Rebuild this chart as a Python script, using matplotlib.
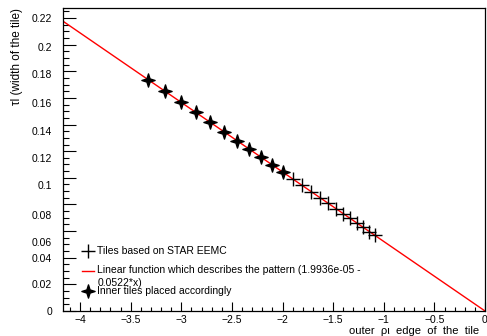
import matplotlib
matplotlib.use("Agg")
import matplotlib.pyplot as plt
from matplotlib.lines import Line2D
from matplotlib.path import Path

plt.rcParams['font.family'] = ['Liberation Sans', 'DejaVu Sans']

# STAR EEMC tiles (outer edge, width)
eemc_x = [-1.9008, -1.8065, -1.7168, -1.6317, -1.5507, -1.4738,
          -1.4007, -1.3312, -1.2651, -1.2023, -1.1427, -1.0860]
eemc_y = [0.0992, 0.0943, 0.0897, 0.0851, 0.0810, 0.0769,
          0.0731, 0.0695, 0.0661, 0.0628, 0.0596, 0.0567]

# inner tiles placed accordingly
inner_x = [-2.0000, -2.1044, -2.2143, -2.3299, -2.4515, -2.5795,
           -2.7141, -2.8558, -3.0049, -3.1618, -3.3268]
inner_y = [0.1044, 0.1099, 0.1156, 0.1216, 0.1280, 0.1346,
           0.1417, 0.1491, 0.1569, 0.1650, 0.1737]

# linear fit parameters
p0, p1 = 1.9936e-05, -0.0522
x_range = [-4.168, 0.0]

# y tick labels (ROOT drew them slightly off the tick marks)
ylabel_text = ['0', '0.02', '0.04', '0.06', '0.08', '0.1', '0.12',
               '0.14', '0.16', '0.18', '0.2', '0.22']
ylabel_pos = [0.0, 0.0203, 0.0398, 0.0518, 0.0721, 0.0946, 0.1149,
              0.1351, 0.1562, 0.1779, 0.1982, 0.2200]

# thin four-pointed star like ROOT's marker
r_in = 0.24
star = Path([(0, 1), (r_in, r_in), (1, 0), (r_in, -r_in), (0, -1),
             (-r_in, -r_in), (-1, 0), (-r_in, r_in), (0, 1)],
            [Path.MOVETO] + [Path.LINETO] * 7 + [Path.CLOSEPOLY])

fig = plt.figure(figsize=(4.87, 3.36), dpi=100)
ax = fig.add_axes([63 / 487, 1 - 311 / 336, 422 / 487, 303 / 336])

fit_y = [p0 + p1 * x for x in x_range]
ax.plot(x_range, fit_y, color='red', lw=1.0, zorder=2)
ax.plot(eemc_x, eemc_y, ls='none', marker='+', ms=9.5, mew=1.0,
        color='black', zorder=3)
ax.plot(inner_x, inner_y, ls='none', marker=star, ms=9.5,
        color='black', zorder=4)

ax.set_xlim(x_range[0], 0.0)
ax.set_ylim(0.0, 0.2275)

ax.set_xticks([-4, -3.5, -3, -2.5, -2, -1.5, -1, -0.5, 0])
ax.set_xticklabels(['\u22124', '\u22123.5', '\u22123', '\u22122.5', '\u22122',
                    '\u22121.5', '\u22121', '\u22120.5', '0'])
ax.set_xticks([v / 10 for v in range(-41, 1)], minor=True)
ax.set_yticks([v / 100 for v in range(0, 23, 2)])
ax.set_yticklabels([])
ax.set_yticks([v / 200 for v in range(0, 46)], minor=True)

ax.tick_params(axis='x', which='major', direction='in', length=6.5,
               width=0.8, labelsize=7.5, pad=3, top=False)
ax.tick_params(axis='x', which='minor', direction='in', length=3.2,
               width=0.8, top=False)
ax.tick_params(axis='y', which='major', direction='in', length=9,
               width=0.8, right=False)
ax.tick_params(axis='y', which='minor', direction='in', length=4.3,
               width=0.8, right=False)

sec = ax.secondary_yaxis('left')
sec.set_yticks(ylabel_pos)
sec.set_yticklabels(ylabel_text)
sec.tick_params(length=0, labelsize=7.5, pad=8)
sec.spines['left'].set_visible(False)

for s in ax.spines.values():
    s.set_linewidth(0.9)

# legend drawn by hand so the wrapped label overlaps like the original
lx_mark, lx_text = 0.059, 0.081
ax.add_line(Line2D([lx_mark], [0.198], marker='+', ms=9.5, mew=1.0,
                   color='black', transform=ax.transAxes))
ax.text(lx_text, 0.198, 'Tiles based on STAR EEMC', transform=ax.transAxes,
        fontsize=7.5, va='center')
ax.add_line(Line2D([0.045, 0.074], [0.132, 0.132], color='red', lw=1.0,
                   transform=ax.transAxes))
ax.text(lx_text, 0.135, 'Linear function which describes the pattern '
        '(1.9936e-05 - ', transform=ax.transAxes, fontsize=7.5, va='center')
ax.text(lx_text, 0.092, '0.0522*x)', transform=ax.transAxes,
        fontsize=7.5, va='center')
ax.add_line(Line2D([lx_mark], [0.066], marker=star, ms=9.5,
                   color='black', transform=ax.transAxes))
ax.text(lx_text, 0.066, 'Inner tiles placed accordingly',
        transform=ax.transAxes, fontsize=7.5, va='center')

fig.text(479 / 487, 1 - 331 / 336, 'outer  \u03c1\u03b9  edge  of  the  tile',
         ha='right', va='center', fontsize=8)
fig.text(17 / 487, 1 - 8 / 336, '\u03c4l (width of the tile)',
         rotation=90, ha='center', va='top', fontsize=8.5)

fig.savefig('out.png', dpi=100)
